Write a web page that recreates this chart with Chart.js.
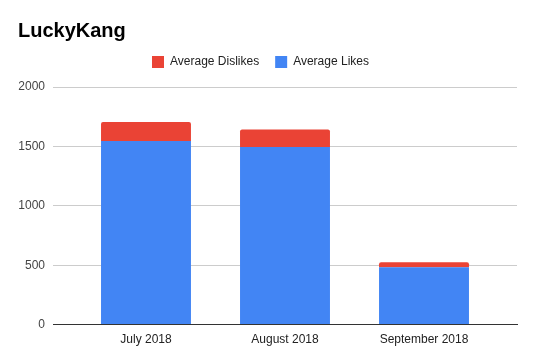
<!DOCTYPE html>
<html>
<head>
<meta charset="utf-8">
<script src="https://cdn.jsdelivr.net/npm/chart.js@4/dist/chart.umd.min.js"></script>
<style>
  html, body { margin: 0; padding: 0; background: #fff; }
  #wrap { width: 536px; height: 363px; }
</style>
</head>
<body>
<div id="wrap"><canvas id="c" width="536" height="363"></canvas></div>
<script>
const categories = ['July 2018', 'August 2018', 'September 2018'];
const averageLikes = [1545, 1495, 483];
const averageDislikes = [160, 148, 42];
const yTicks = [0, 500, 1000, 1500, 2000];

Chart.defaults.font.family = '"Liberation Sans", Arial, sans-serif';
Chart.defaults.color = '#444';

const toPoints = arr => arr.map((v, i) => ({ x: i, y: v }));

const legendGap = {
  id: 'legendGap',
  afterInit(chart) {
    const lg = chart.legend;
    if (!lg) return;
    const orig = lg.fit;
    lg.fit = function () { orig.call(this); this.height += 9; };
  },
  afterLayout(chart) {
    const lg = chart.legend;
    if (!lg) return;
    lg.left -= 7;
    lg.right -= 7;
  }
};

new Chart(document.getElementById('c'), {
  type: 'bar',
  plugins: [legendGap],
  data: {
    datasets: [
      {
        label: 'Average Likes',
        data: toPoints(averageLikes),
        backgroundColor: '#4285F4',
        barPercentage: 0.647,
        categoryPercentage: 1
      },
      {
        label: 'Average Dislikes',
        data: toPoints(averageDislikes),
        backgroundColor: '#EA4335',
        borderRadius: { topLeft: 2, topRight: 2, bottomLeft: 0, bottomRight: 0 },
        borderSkipped: false,
        barPercentage: 0.647,
        categoryPercentage: 1
      }
    ]
  },
  options: {
    responsive: false,
    animation: false,
    layout: { padding: { left: 18, right: 19, top: 0, bottom: 8 } },
    plugins: {
      title: {
        display: true,
        text: 'LuckyKang',
        align: 'start',
        color: '#000',
        font: { size: 20, weight: 'bold' },
        padding: { top: 19, bottom: -3 }
      },
      legend: {
        reverse: true,
        labels: {
          boxWidth: 12,
          boxHeight: 12,
          padding: 16,
          color: '#222',
          font: { size: 12 }
        }
      },
      tooltip: { enabled: false }
    },
    scales: {
      x: {
        type: 'linear',
        stacked: true,
        offset: false,
        bounds: 'data',
        min: -0.669,
        max: 2.669,
        afterBuildTicks: scale => { scale.ticks = categories.map((_, i) => ({ value: i })); },
        ticks: {
          callback: v => categories[v],
          color: '#222',
          font: { size: 12 },
          padding: 8,
          maxRotation: 0
        },
        grid: { display: false, drawTicks: false },
        border: { display: true, color: '#333', width: 1 }
      },
      y: {
        stacked: true,
        min: 0,
        max: 2000,
        afterBuildTicks: scale => { scale.ticks = yTicks.map(v => ({ value: v })); },
        afterFit: scale => { scale.width = 35; },
        ticks: {
          callback: v => String(v),
          color: '#444',
          font: { size: 12 },
          padding: 8
        },
        grid: { color: '#cccccc', drawTicks: false },
        border: { display: false }
      }
    }
  }
});
</script>
</body>
</html>
